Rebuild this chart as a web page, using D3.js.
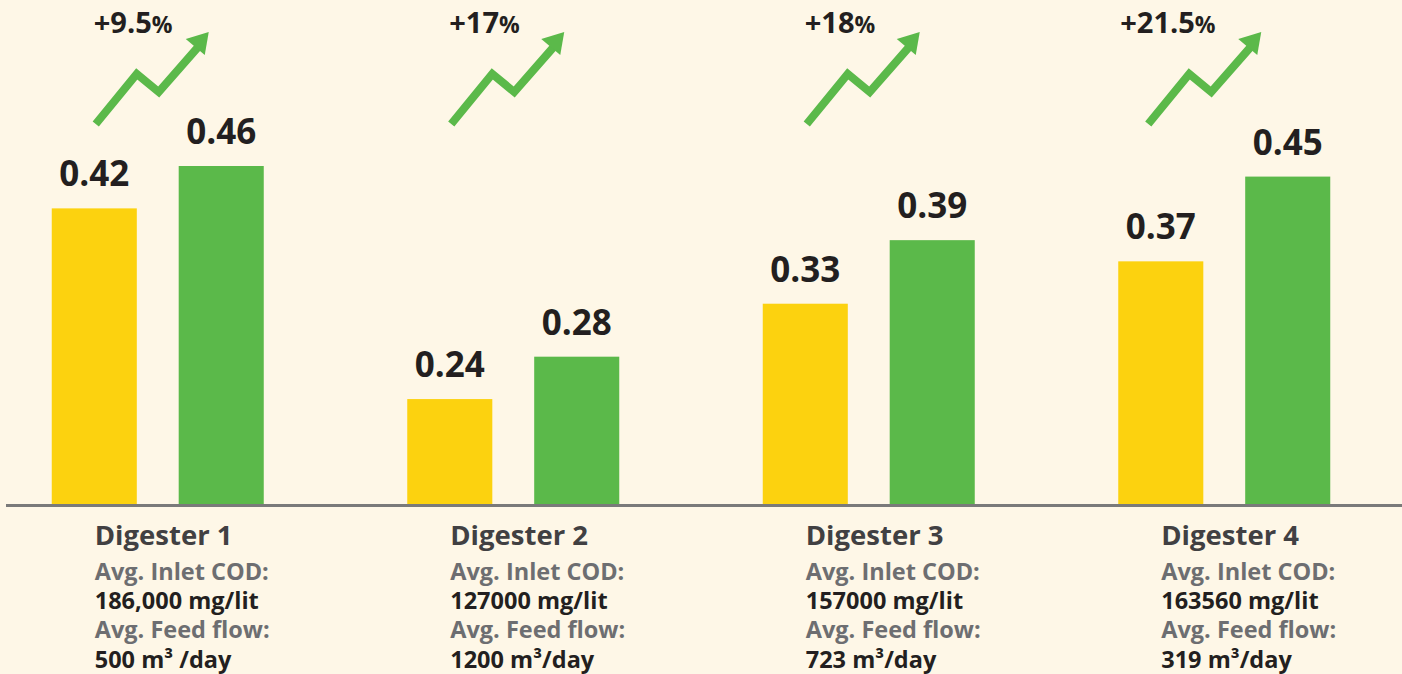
<!DOCTYPE html>
<html>
<head>
<meta charset="utf-8">
<script src="https://cdn.jsdelivr.net/npm/d3@7"></script>
<style>
  html, body { margin: 0; padding: 0; background: #fef7e7; }
  svg { display: block; font-family: "Open Sans", sans-serif; font-weight: 700; }
</style>
</head>
<body>
<div id="chart"></div>
<script>
// chart values
var digesters = ["Digester 1", "Digester 2", "Digester 3", "Digester 4"];
var series = ["before", "after"];
var before = [0.42, 0.24, 0.33, 0.37];
var after = [0.46, 0.28, 0.39, 0.45];
var gains = ["+9.5", "+17", "+18", "+21.5"];
var inletCOD = ["186,000 mg/lit", "127000 mg/lit", "157000 mg/lit", "163560 mg/lit"];
var feedFlow = ["500 m\u00b3 /day", "1200 m\u00b3/day", "723 m\u00b3/day", "319 m\u00b3/day"];

var colors = { before: "#fcd20f", after: "#5bb94a" };

var width = 1402;
var height = 674;
var baseY = 505;

var svg = d3.select("#chart")
    .append("svg")
    .attr("width", width)
    .attr("height", height);

svg.append("rect")
    .attr("width", width)
    .attr("height", height)
    .attr("fill", "#fef7e7");

// scales
var x0 = d3.scaleBand()
    .domain(digesters)
    .range([-20, 1402]);

var x1 = d3.scaleBand()
    .domain(series)
    .range([-106, 106])
    .paddingInner(0.33);

// picture is not drawn to a zero baseline, so the domain starts above 0
var y = d3.scaleLinear()
    .domain([0.14, 0.46])
    .range([baseY, 166]);

var rows = digesters.map(function(d, i) {
    return { name: d, before: before[i], after: after[i], gain: gains[i],
             cod: inletCOD[i], flow: feedFlow[i], i: i };
});

var groups = svg.selectAll("g.digester")
    .data(rows)
    .enter().append("g")
    .attr("class", "digester")
    .attr("transform", function(d) { return "translate(" + (x0(d.name) + x0.bandwidth() / 2) + ",0)"; });

// bars
groups.selectAll("rect.bar")
    .data(function(d) { return series.map(function(s) { return { key: s, value: d[s] }; }); })
    .enter().append("rect")
    .attr("class", "bar")
    .attr("x", function(d) { return x1(d.key); })
    .attr("y", function(d) { return y(d.value); })
    .attr("width", x1.bandwidth())
    .attr("height", function(d) { return baseY - y(d.value); })
    .attr("fill", function(d) { return colors[d.key]; });

// value labels
groups.selectAll("text.val")
    .data(function(d) { return series.map(function(s) { return { key: s, value: d[s] }; }); })
    .enter().append("text")
    .attr("class", "val")
    .attr("x", function(d) { return x1(d.key) + x1.bandwidth() / 2; })
    .attr("y", function(d) { return y(d.value) - 22; })
    .attr("text-anchor", "middle")
    .attr("font-size", 35)
    .attr("fill", "#231f20")
    .text(function(d) { return d.value.toFixed(2); });

// baseline
svg.append("line")
    .attr("x1", 6)
    .attr("x2", width)
    .attr("y1", baseY + 0.5)
    .attr("y2", baseY + 0.5)
    .attr("stroke", "#7a7a7a")
    .attr("stroke-width", 3);

// trend arrows + percentage
groups.each(function(d) {
    var g = d3.select(this);
    var ax = d.i === 3 ? -14 : 0;   // last arrow sits a bit further left
    var tx = d.i === 3 ? -40 : 0;
    var line = d3.line();
    g.append("path")
        .attr("d", line([[-62 + ax, 124], [-21 + ax, 74], [1 + ax, 92], [43 + ax, 44]]))
        .attr("fill", "none")
        .attr("stroke", "#5bb94a")
        .attr("stroke-width", 8);
    g.append("path")
        .attr("d", line([[28 + ax, 39], [51 + ax, 32], [47 + ax, 55]]) + "Z")
        .attr("fill", "#5bb94a");
    var t = g.append("text")
        .attr("x", -64 + tx)
        .attr("y", 33)
        .attr("font-size", 29)
        .attr("fill", "#231f20");
    t.append("tspan").text(d.gain);
    t.append("tspan").attr("font-size", 23).text("%");
});

// captions under the axis
var captions = [
    { key: "name", dy: 545, size: 27.5, color: "#414042" },
    { key: null, label: "Avg. Inlet COD:", dy: 580, size: 23.5, color: "#6d6e71" },
    { key: "cod", dy: 609, size: 23.5, color: "#231f20" },
    { key: null, label: "Avg. Feed flow:", dy: 638, size: 23.5, color: "#6d6e71" },
    { key: "flow", dy: 668, size: 23.5, color: "#231f20" }
];

captions.forEach(function(c) {
    groups.append("text")
        .attr("x", -63)
        .attr("y", c.dy)
        .attr("font-size", c.size)
        .attr("fill", c.color)
        .text(function(d) { return c.key ? d[c.key] : c.label; });
});
</script>
</body>
</html>
